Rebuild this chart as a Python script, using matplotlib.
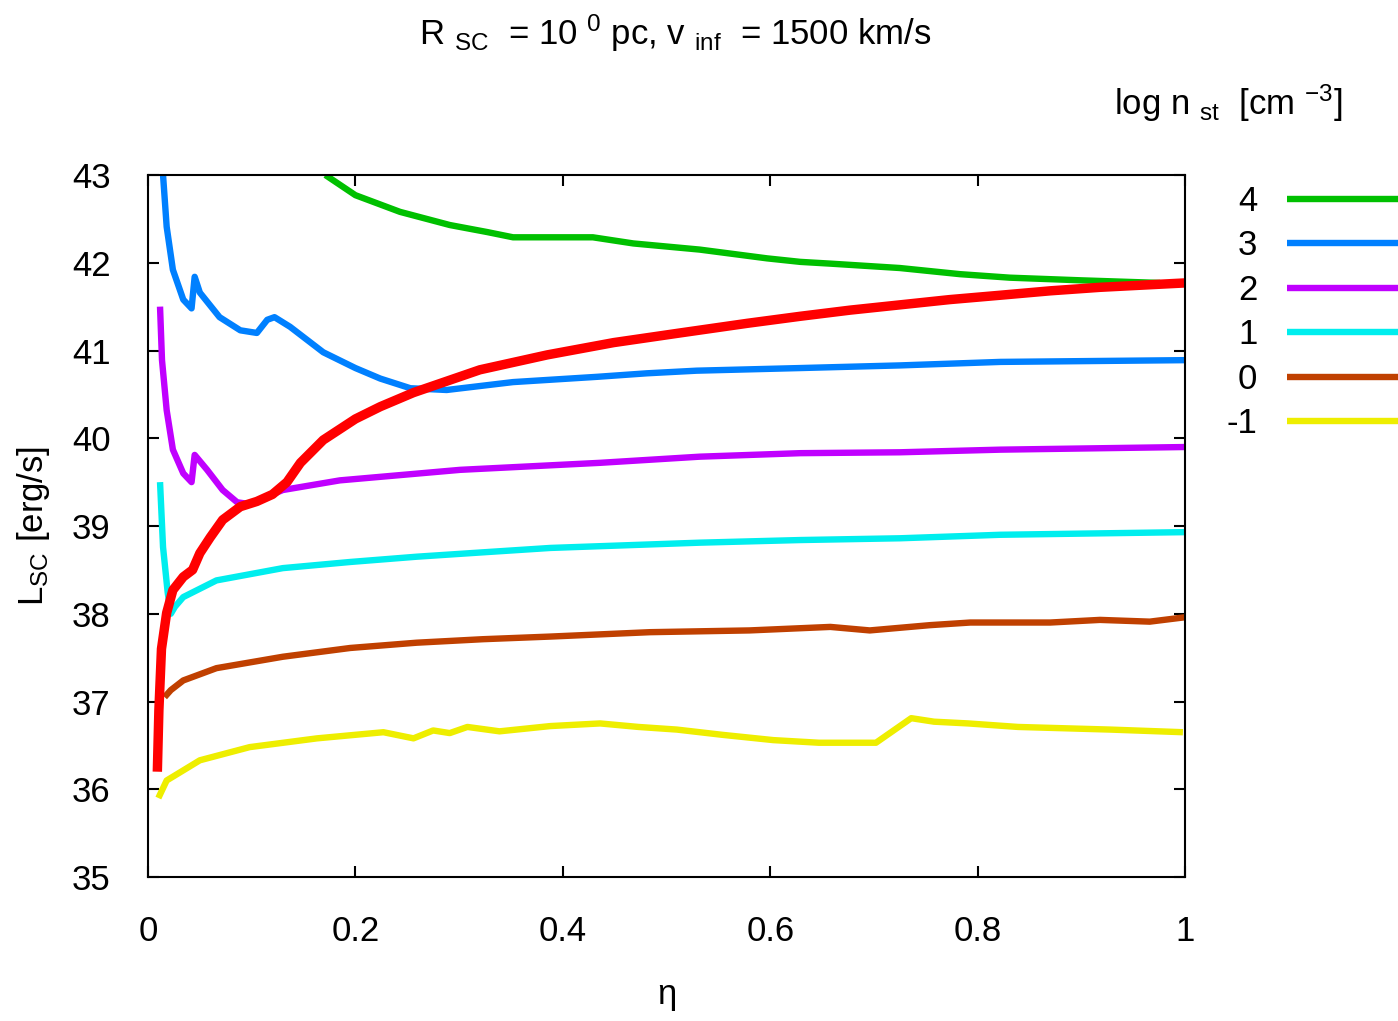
import numpy as np
import matplotlib.pyplot as plt

plt.rcParams['font.family'] = ['Liberation Sans', 'DejaVu Sans']
plt.rcParams['mathtext.default'] = 'regular'

# curves for each log n_st
x4 = [0.171, 0.2, 0.243, 0.291, 0.327, 0.352, 0.429, 0.468, 0.532, 0.597, 0.629, 0.658, 0.725, 0.783,
      0.831, 0.899, 0.976]
y4 = [43.0, 42.77, 42.58, 42.43, 42.35, 42.29, 42.29, 42.22, 42.15, 42.05, 42.01, 41.99, 41.94, 41.87,
      41.83, 41.80, 41.77]

x3 = [0.0145, 0.018, 0.024, 0.034, 0.042, 0.045, 0.05, 0.069, 0.089, 0.105, 0.115, 0.122, 0.137, 0.169,
      0.2, 0.224, 0.253, 0.288, 0.352, 0.433, 0.481, 0.529, 0.629, 0.725, 0.822, 1.0]
y3 = [43.0, 42.41, 41.92, 41.58, 41.48, 41.84, 41.66, 41.38, 41.23, 41.2, 41.35, 41.38, 41.27, 40.98,
      40.8, 40.68, 40.57, 40.55, 40.64, 40.70, 40.74, 40.77, 40.80, 40.83, 40.87, 40.89]

x2 = [0.0116, 0.0135, 0.018, 0.024, 0.034, 0.042, 0.045, 0.057, 0.072, 0.086, 0.098, 0.13, 0.185, 0.301,
      0.436, 0.532, 0.629, 0.725, 0.822, 1.0]
y2 = [41.5, 40.89, 40.32, 39.87, 39.6, 39.5, 39.81, 39.64, 39.41, 39.27, 39.25, 39.41, 39.52, 39.64,
      39.72, 39.79, 39.83, 39.84, 39.87, 39.9]

x1 = [0.0116, 0.0145, 0.019, 0.022, 0.026, 0.034, 0.066, 0.13, 0.195, 0.259, 0.323, 0.388, 0.436, 0.532,
      0.629, 0.725, 0.822, 1.0]
y1 = [39.5, 38.76, 38.24, 38.0, 38.08, 38.19, 38.38, 38.52, 38.59, 38.65, 38.70, 38.75, 38.77, 38.81,
      38.84, 38.86, 38.9, 38.93]

x0 = [0.016, 0.022, 0.034, 0.066, 0.13, 0.195, 0.259, 0.323, 0.388, 0.484, 0.58, 0.658, 0.696, 0.754,
      0.793, 0.87, 0.918, 0.966, 1.0]
y0 = [37.05, 37.13, 37.24, 37.38, 37.51, 37.61, 37.67, 37.71, 37.74, 37.79, 37.81, 37.85, 37.81, 37.87,
      37.9, 37.9, 37.93, 37.91, 37.96]

xm1 = [0.01, 0.018, 0.05, 0.098, 0.163, 0.227, 0.256, 0.275, 0.291, 0.308, 0.339, 0.388, 0.436, 0.473,
       0.51, 0.554, 0.603, 0.647, 0.702, 0.736, 0.758, 0.791, 0.839, 0.928, 0.998]
ym1 = [35.9, 36.1, 36.33, 36.48, 36.58, 36.65, 36.58, 36.67, 36.64, 36.71, 36.66, 36.72, 36.75, 36.71,
       36.68, 36.62, 36.56, 36.53, 36.53, 36.81, 36.77, 36.75, 36.71, 36.68, 36.65]

# thick red curve (no legend entry)
xr = [0.009, 0.0105, 0.013, 0.018, 0.024, 0.034, 0.043, 0.05, 0.06, 0.072, 0.089, 0.105, 0.12, 0.134,
      0.147, 0.169, 0.2, 0.224, 0.256, 0.32, 0.385, 0.449, 0.513, 0.578, 0.629, 0.677, 0.725, 0.773,
      0.822, 0.87, 0.918, 1.0]
yr = [36.2, 36.9, 37.6, 38.01, 38.27, 38.42, 38.5, 38.69, 38.87, 39.07, 39.22, 39.28, 39.36, 39.5,
      39.72, 39.98, 40.22, 40.36, 40.52, 40.78, 40.95, 41.09, 41.2, 41.31, 41.39, 41.46, 41.52, 41.58,
      41.63, 41.68, 41.72, 41.77]

labels = ['4', '3', '2', '1', '0', '-1']
colors = ['#00c000', '#0080ff', '#c000ff', '#00eeee', '#c04000', '#eeee00']
xs = [x4, x3, x2, x1, x0, xm1]
ys = [y4, y3, y2, y1, y0, ym1]

fs = 25

fig = plt.figure(figsize=(13.98, 10.21), dpi=100)
ax = fig.add_axes([148/1398, 1-877/1021, (1185-148)/1398, (877-175)/1021])

for xx, yy, c, lab in zip(xs, ys, colors, labels):
    ax.plot(xx, yy, color=c, lw=4.6, label=lab, solid_capstyle='butt')
ax.plot(xr, yr, color='#ff0000', lw=6.8, solid_capstyle='butt')

ax.set_xlim(0, 1)
ax.set_ylim(35, 43)
ax.set_xticks([0, 0.2, 0.4, 0.6, 0.8, 1])
ax.set_xticklabels(['0', '0.2', '0.4', '0.6', '0.8', '1'])
ax.set_yticks(range(35, 44))
ax.tick_params(direction='in', length=8, width=1.5, top=True, right=True, labelsize=fs)
ax.tick_params(axis='x', pad=27)
ax.tick_params(axis='y', pad=27)
for s in ax.spines.values():
    s.set_linewidth(1.5)

ax.set_xlabel('η', fontsize=fs, labelpad=22)
ax.set_ylabel('L$_{SC}$ [erg/s]', fontsize=fs, labelpad=14)

fig.text(675/1398, 1-33/1021, 'R $_{SC}$  = 10 $^{0}$ pc, v $_{inf}$  = 1500 km/s',
         fontsize=fs, ha='center', va='center')
fig.text(1228/1398, 1-103/1021, 'log n $_{st}$  [cm $^{-3}$]', fontsize=fs, ha='center', va='center')

leg = fig.legend(loc='upper right', bbox_to_anchor=(1.0, 1-185/1021), frameon=False,
                 markerfirst=False, fontsize=fs, handlelength=3.2, handletextpad=0.85,
                 labelspacing=0.33, borderpad=0, borderaxespad=0)
for h in leg.get_lines():
    h.set_linewidth(4.6)

fig.savefig('out.png', dpi=100)
